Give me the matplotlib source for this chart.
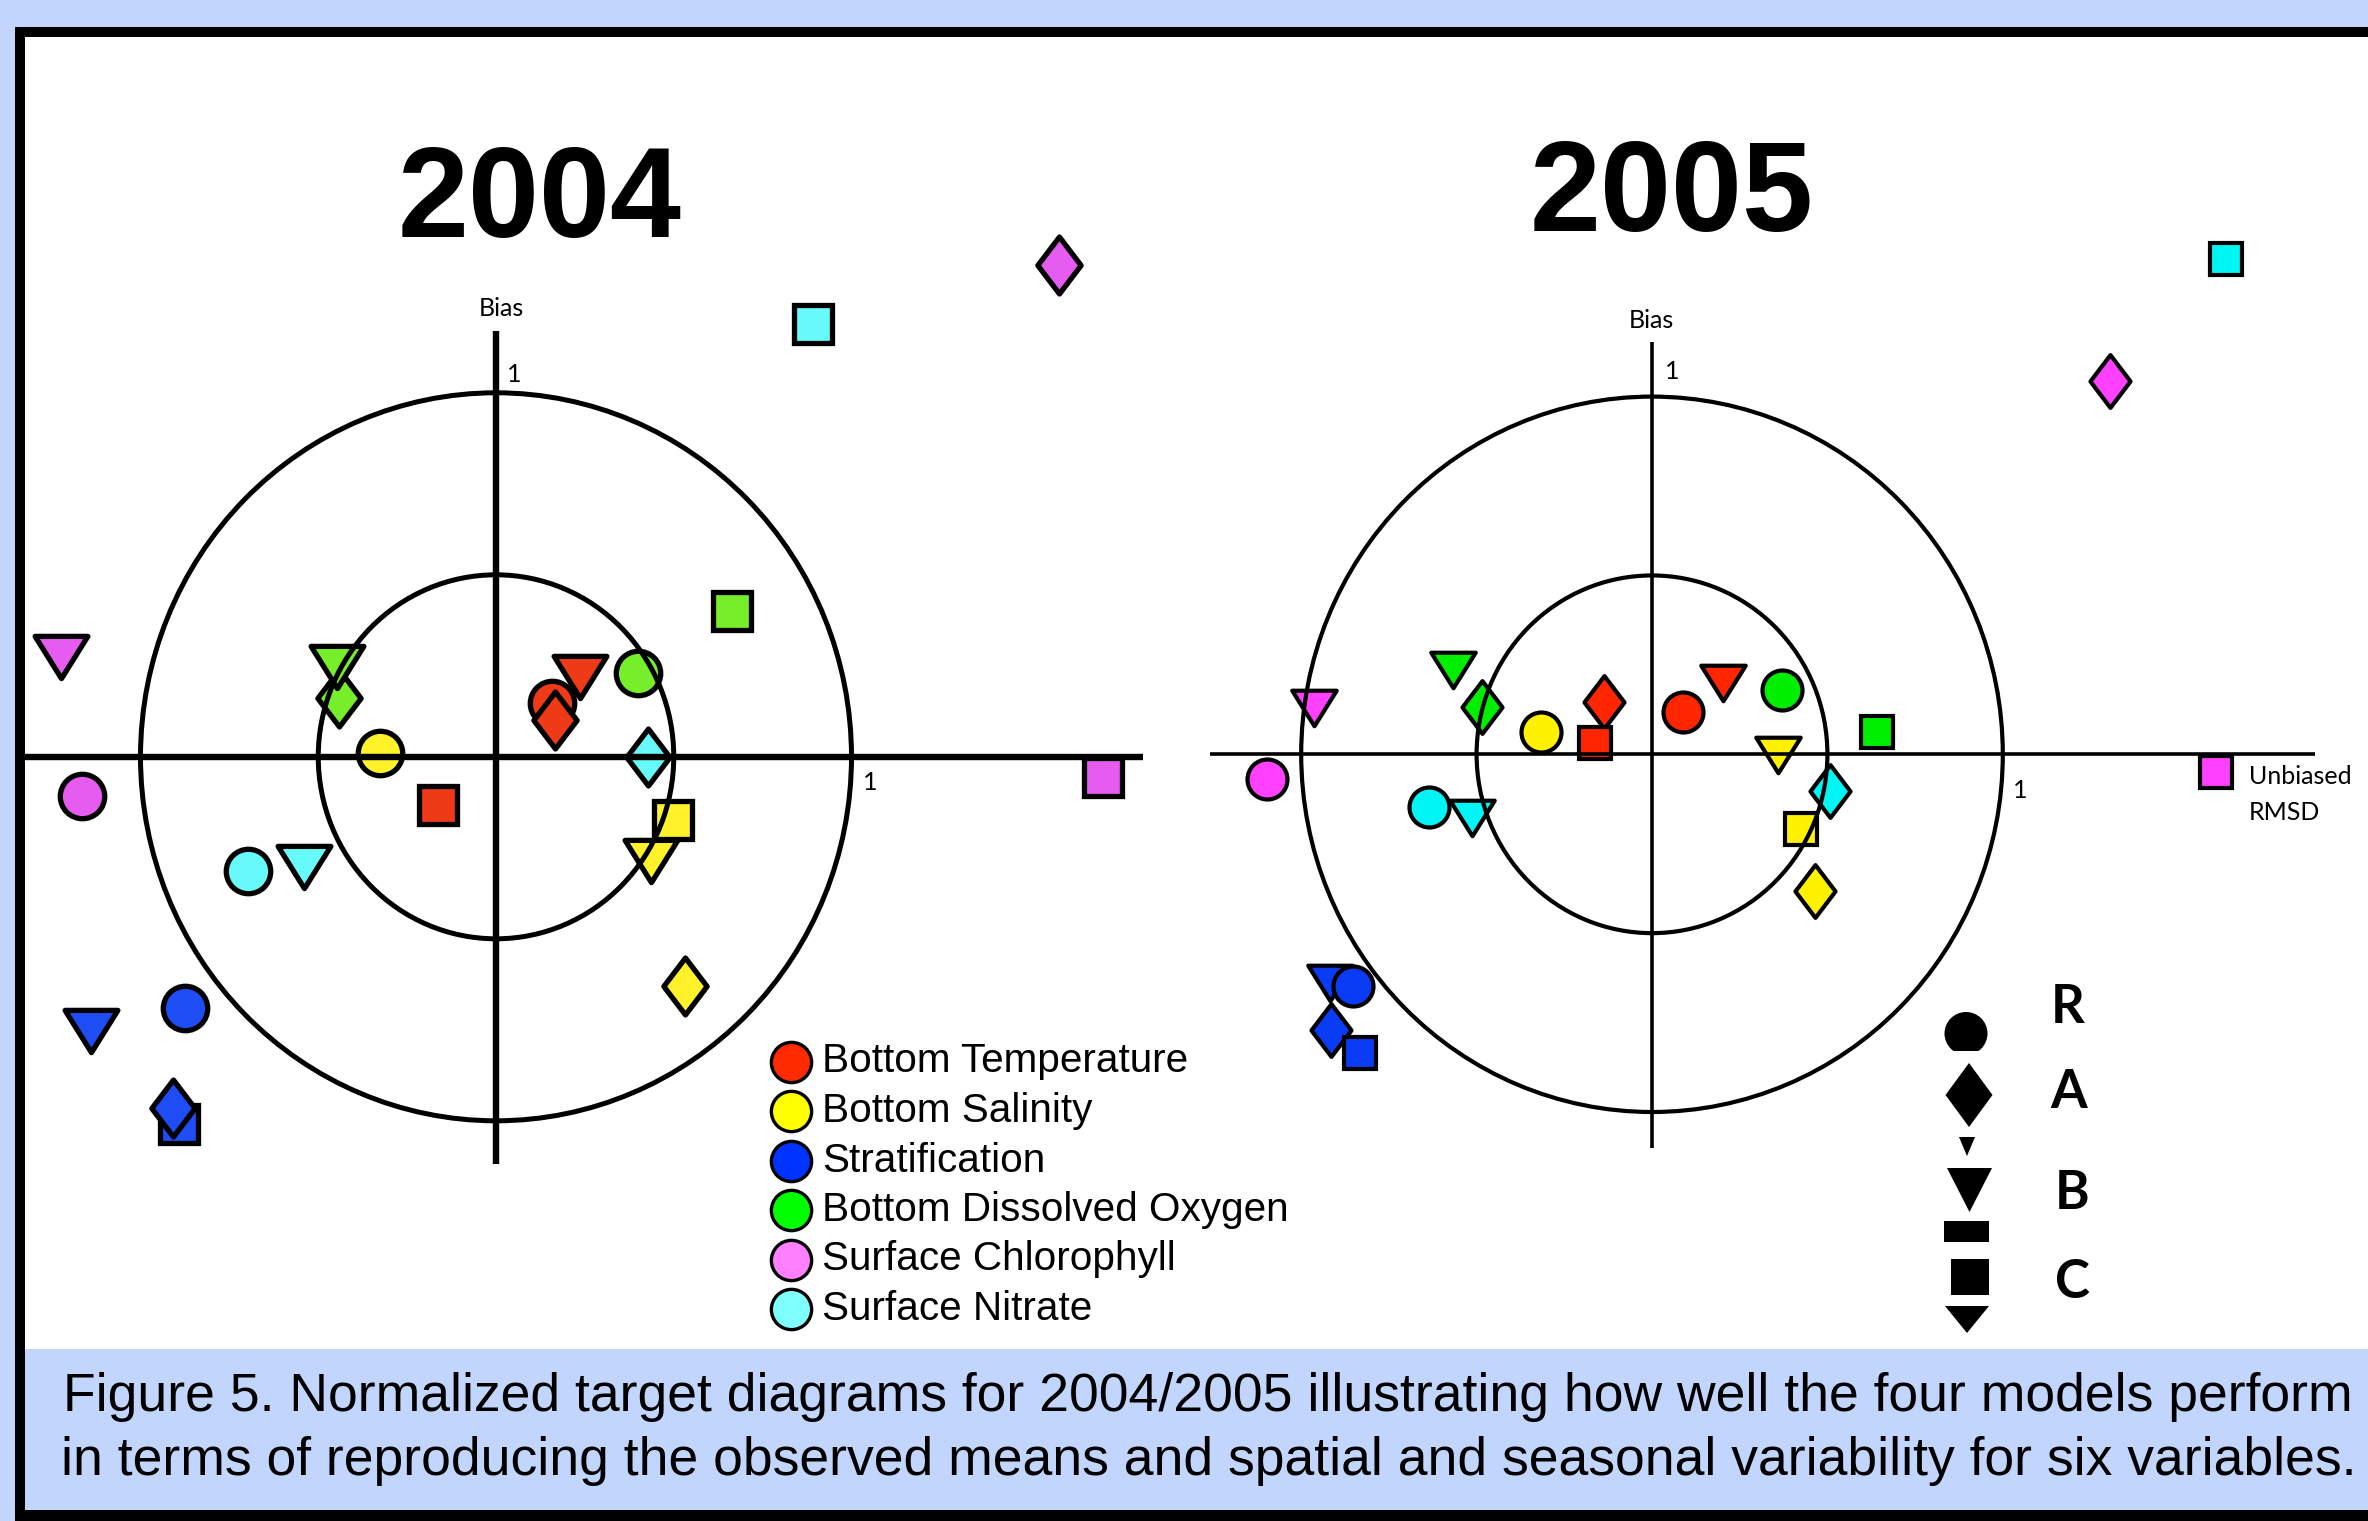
import numpy as np
import matplotlib
matplotlib.use("Agg")
import matplotlib.pyplot as plt
from matplotlib.path import Path
from matplotlib.markers import MarkerStyle
from matplotlib.patches import Rectangle, Circle, Polygon

W, H = 2368, 1521
DPI = 100

# ---- data -------------------------------------------------------------
variables = ["Bottom Temperature", "Bottom Salinity", "Stratification",
             "Bottom Dissolved Oxygen", "Surface Chlorophyll", "Surface Nitrate"]
models = ["R", "A", "B", "C"]

# normalized unbiased RMSD (x) and bias (y); rows = variables, cols = R A B C
rmsd_2004 = [[0.158, 0.166, 0.236, -0.162],
             [-0.326, 0.532, 0.437, 0.499],
             [-0.875, -0.909, -1.139, -0.892],
             [0.400, -0.441, -0.446, 0.664],
             [-1.165, 1.584, -1.223, 1.707],
             [-0.698, 0.427, -0.541, 0.893]]
bias_2004 = [[0.147, 0.101, 0.220, -0.132],
             [0.010, -0.630, -0.286, -0.174],
             [-0.690, -0.966, -0.752, -1.009],
             [0.229, 0.161, 0.248, 0.400],
             [-0.108, 1.351, 0.274, -0.055],
             [-0.314, 0.000, -0.302, 1.190]]
rmsd_2005 = [[0.089, -0.136, 0.201, -0.163],
             [-0.315, 0.464, 0.358, 0.426],
             [-0.853, -0.914, -0.918, -0.832],
             [0.372, -0.485, -0.568, 0.642],
             [-1.097, 1.307, -0.964, 1.608],
             [-0.635, 0.507, -0.512, 1.637]]
bias_2005 = [[0.119, 0.145, 0.200, 0.031],
             [0.063, -0.382, -0.001, -0.210],
             [-0.649, -0.770, -0.639, -0.834],
             [0.180, 0.133, 0.237, 0.063],
             [-0.068, 1.044, 0.129, -0.049],
             [-0.146, -0.103, -0.179, 1.386]]

colors_2004 = ["#EE3A17", "#FFF22B", "#1E4CF5", "#76EE29", "#E65CF0", "#66FAFA"]
colors_2005 = ["#FF2600", "#FFF200", "#0A3CF5", "#00EE00", "#FF40FF", "#00F5F5"]
legend_colors = ["#FF2A00", "#FFFF00", "#0033FF", "#00FF00", "#FF80FF", "#80FFFF"]

circle_radii = [1.0, 0.5]
caption = ["Figure 5. Normalized target diagrams for 2004/2005 illustrating how well the four models perform",
           "in terms of reproducing the observed means and spatial and seasonal variability for six variables."]

BG = "#C2D5FC"
SANS = "Liberation Sans"
CAL = "Lato"

# ---- marker shapes ----------------------------------------------------
diamond = MarkerStyle(Path([(0, 1), (0.76, 0), (0, -1), (-0.76, 0), (0, 1)], closed=True),
                      joinstyle="miter")
tri_down = MarkerStyle(Path([(-1, 0.8), (1, 0.8), (0, -0.8), (-1, 0.8)], closed=True),
                       joinstyle="miter")
shapes = {"R": MarkerStyle("o"), "A": diamond, "B": tri_down, "C": MarkerStyle("s", joinstyle="miter")}

fig = plt.figure(figsize=(W / DPI, H / DPI), dpi=DPI)
fig.patch.set_facecolor(BG)

# background / frame in pixel coordinates
bg = fig.add_axes([0, 0, 1, 1], zorder=0)
bg.set_xlim(0, W)
bg.set_ylim(H, 0)
bg.axis("off")
bg.add_patch(Rectangle((14.5, 26.5), W, H, fc="black", ec="none"))
bg.add_patch(Rectangle((24.5, 36.5), W, 1349 - 36.5, fc="white", ec="none"))
bg.add_patch(Rectangle((24.5, 1349), W, 1510 - 1349, fc=BG, ec="none"))


def target(cx, cy, sx, sy, x0, x1, y0, y1, z):
    ax = fig.add_axes([x0 / W, 1 - y1 / H, (x1 - x0) / W, (y1 - y0) / H], zorder=z)
    ax.set_xlim((x0 - cx) / sx, (x1 - cx) / sx)
    ax.set_ylim((cy - y1) / sy, (cy - y0) / sy)
    ax.axis("off")
    ax.patch.set_alpha(0)
    return ax


def draw_year(ax, xs, ys, cols, sizes, mew, axlw, circlw, hx, vy, order):
    for i in range(len(variables)):
        for m in order:
            j = models.index(m)
            ax.plot(xs[i][j], ys[i][j], linestyle="none", marker=shapes[m],
                    markersize=sizes[m], markerfacecolor=cols[i],
                    markeredgecolor="black", markeredgewidth=mew, clip_on=False, zorder=2)
    for r in circle_radii:
        ax.add_patch(Circle((0, 0), r, fill=False, ec="black", lw=circlw, zorder=3))
    ax.plot(hx, [0, 0], color="black", lw=axlw, zorder=3, solid_capstyle="butt")
    ax.plot([0, 0], vy, color="black", lw=axlw, zorder=3, solid_capstyle="butt")


ax1 = target(496, 756.8, 355.5, 364, 24.5, 1180, 36.5, 1349, 1)
draw_year(ax1, rmsd_2004, bias_2004, colors_2004,
          {"R": 32, "A": 41, "B": 38, "C": 27.7}, 3.8, 4.6, 3.6,
          [-1.33, 1.819], [-1.118, 1.170], ["R", "C", "A", "B"])

ax2 = target(1652, 754.3, 350.8, 357.7, 1180, W, 36.5, 1349, 2)
draw_year(ax2, rmsd_2005, bias_2005, colors_2005,
          {"R": 28.8, "A": 38, "B": 32, "C": 23.3}, 3.0, 2.6, 3.0,
          [-1.260, 1.890], [-1.100, 1.153], ["B", "R", "A", "C"])

# ---- overlay: texts, legend, key ----------------------------------------
top = fig.add_axes([0, 0, 1, 1], zorder=5)
top.set_xlim(0, W)
top.set_ylim(H, 0)
top.axis("off")
top.patch.set_alpha(0)

top.text(540, 237, "2004", fontsize=92, fontweight="bold", family=SANS, ha="center", va="baseline")
top.text(1672, 231, "2005", fontsize=92, fontweight="bold", family=SANS, ha="center", va="baseline")

lab = dict(fontsize=18, family=CAL, va="baseline")
top.text(501, 316, "Bias", ha="center", **lab)
top.text(507, 382, "1", ha="left", **lab)
top.text(863, 790, "1", ha="left", **lab)
top.text(1651, 328, "Bias", ha="center", **lab)
top.text(1665, 379, "1", ha="left", **lab)
top.text(2013, 798, "1", ha="left", **lab)
top.text(2249, 784, "Unbiased", ha="left", **lab)
top.text(2249, 820, "RMSD", ha="left", **lab)

# variable legend
for k, (name, c) in enumerate(zip(variables, legend_colors)):
    yc = 1061.5 + k * 49.5
    top.plot(791, yc, marker="o", markersize=29, markerfacecolor=c,
             markeredgecolor="black", markeredgewidth=2.4, linestyle="none")
    top.text(822, yc + 11, name, fontsize=29.2, family=SANS, ha="left", va="baseline")

# model key (glyph strip as in the original)
key_glyphs = [("diamond", 1969, 1095, 47, 64), ("tri", 1967, 1146.5, 16, 19),
              ("tri", 1969.5, 1190, 45, 44), ("rect", 1966.5, 1231.5, 45, 21),
              ("rect", 1970, 1277, 38, 36), ("tri", 1967, 1319.5, 44, 27)]
for kind, cx, cy, w, h in key_glyphs:
    if kind == "diamond":
        pts = [(cx, cy - h / 2), (cx + w / 2, cy), (cx, cy + h / 2), (cx - w / 2, cy)]
    elif kind == "tri":
        pts = [(cx - w / 2, cy - h / 2), (cx + w / 2, cy - h / 2), (cx, cy + h / 2)]
    else:
        pts = [(cx - w / 2, cy - h / 2), (cx + w / 2, cy - h / 2),
               (cx + w / 2, cy + h / 2), (cx - w / 2, cy + h / 2)]
    top.add_patch(Polygon(pts, closed=True, fc="black", ec="none"))
half = Circle((1966, 1033.5), 21.5, fc="black", ec="none")
top.add_patch(half)
half.set_clip_path(Rectangle((1940, 1005), 60, 46, transform=top.transData))

for letter, x, yb in [("R", 2068, 1023), ("A", 2069, 1108), ("B", 2072, 1209), ("C", 2072, 1298)]:
    top.text(x, yb, letter, fontsize=38, fontweight="bold", family=CAL, ha="center", va="baseline")

# caption
top.text(1208, 1411.5, caption[0], fontsize=38.5, family=SANS, ha="center", va="baseline")
top.text(1209, 1475, caption[1], fontsize=38.5, family=SANS, ha="center", va="baseline")

fig.savefig("out.png", dpi=DPI, facecolor=fig.get_facecolor())
